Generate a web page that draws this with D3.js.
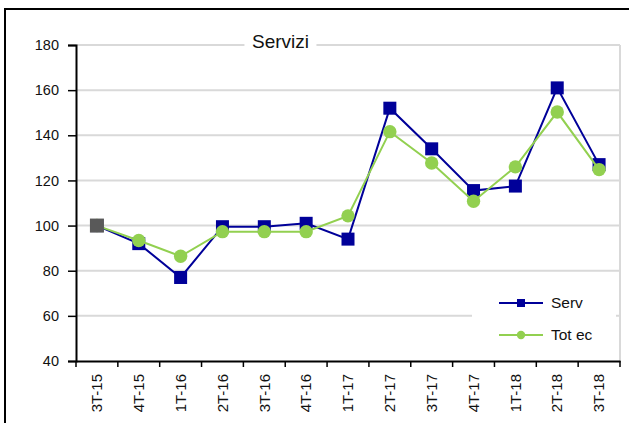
<!DOCTYPE html>
<html>
<head>
<meta charset="utf-8">
<script src="https://cdn.jsdelivr.net/npm/d3@7"></script>
<style>
	body { margin: 0; background: #fff; }
	text { font-family: "Liberation Sans", Arial, sans-serif; fill: #111; }
</style>
</head>
<body>
<div id="chart"></div>
<script>
//////////////////////////// data /////////////////////////////////////////

const categories = ["3T-15", "4T-15", "1T-16", "2T-16", "3T-16", "4T-16", "1T-17",
	"2T-17", "3T-17", "4T-17", "1T-18", "2T-18", "3T-18"];
const servValues = [100, 92, 77, 99.5, 99.5, 101, 94, 152, 134, 115.5, 117.5, 161, 127];
const totEcValues = [100, 93.4, 86.4, 97.3, 97.3, 97.3, 104.3, 141.6, 127.7, 110.8, 126, 150.3, 124.8];
const yTicks = [40, 60, 80, 100, 120, 140, 160, 180];
const seriesNames = ["Serv", "Tot ec"];

//////////////////////////// sizes ////////////////////////////////////////

const dimensions = {
	width: 629,
	height: 423,
	margin: { top: 45, right: 9, bottom: 62, left: 76 }
};
dimensions.boundedWidth = dimensions.width - dimensions.margin.left - dimensions.margin.right;
dimensions.boundedHeight = dimensions.height - dimensions.margin.top - dimensions.margin.bottom;

const navy = "#000099";
const green = "#92d050";
const grid = "#d9d9d9";

//////////////////////////// svg //////////////////////////////////////////

const svg = d3.select("#chart").append("svg")
	.attr("width", dimensions.width)
	.attr("height", dimensions.height);

// outer frame (right and bottom edges fall off the picture)
svg.append("rect")
	.attr("x", 5).attr("y", 9)
	.attr("width", 640).attr("height", 440)
	.attr("fill", "none").attr("stroke", "#000").attr("stroke-width", 2);

const bounds = svg.append("g")
	.attr("transform", `translate(${dimensions.margin.left},${dimensions.margin.top})`);

//////////////////////////// scales ///////////////////////////////////////

const xScale = d3.scaleBand()
	.domain(categories)
	.range([0, dimensions.boundedWidth]);

const yScale = d3.scaleLinear()
	.domain([40, 180])
	.range([dimensions.boundedHeight, 0]);

const xCenter = (i) => xScale(categories[i]) + xScale.bandwidth() / 2;

//////////////////////////// grid /////////////////////////////////////////

bounds.append("g")
	.selectAll("line")
	.data(yTicks.filter((d) => d > 40))
	.join("line")
	.attr("x1", 0).attr("x2", dimensions.boundedWidth)
	.attr("y1", (d) => yScale(d)).attr("y2", (d) => yScale(d))
	.attr("stroke", grid).attr("stroke-width", 2);

bounds.append("line")
	.attr("x1", dimensions.boundedWidth).attr("x2", dimensions.boundedWidth)
	.attr("y1", yScale(180)).attr("y2", yScale(40))
	.attr("stroke", grid).attr("stroke-width", 2);

//////////////////////////// axes /////////////////////////////////////////

const yAxis = bounds.append("g")
	.call(d3.axisLeft(yScale).tickValues(yTicks).tickSize(8).tickPadding(9));
yAxis.select(".domain").attr("stroke", "#000").attr("stroke-width", 2);
yAxis.selectAll(".tick line").attr("stroke", "#000").attr("stroke-width", 1.5);
yAxis.selectAll("text").style("font-size", "14.5px").attr("fill", "#111");

const xAxis = bounds.append("g")
	.attr("transform", `translate(0,${dimensions.boundedHeight})`)
	.call(d3.axisBottom(xScale).tickSize(0).tickPadding(0));
xAxis.select(".domain").attr("stroke", "#000").attr("stroke-width", 2);
xAxis.selectAll("text")
	.attr("transform", "rotate(-90)")
	.attr("x", -13)
	.attr("y", 0)
	.attr("dy", "0.35em")
	.style("text-anchor", "end")
	.style("font-size", "15px")
	.attr("fill", "#111");

// tick marks sit between categories
xAxis.append("g")
	.selectAll("line")
	.data(categories.map((d) => xScale(d)).concat([dimensions.boundedWidth]))
	.join("line")
	.attr("x1", (d) => d).attr("x2", (d) => d)
	.attr("y1", 0).attr("y2", 6)
	.attr("stroke", "#000").attr("stroke-width", 1.5);

//////////////////////////// title ////////////////////////////////////////

bounds.append("rect")
	.attr("x", xCenter(3) + 22).attr("y", -12)
	.attr("width", 72).attr("height", 20)
	.attr("fill", "#fff");

bounds.append("text")
	.attr("x", xCenter(3) + 58).attr("y", -4)
	.attr("dy", "0.35em")
	.style("text-anchor", "middle")
	.style("font-size", "19px")
	.text("Servizi");

//////////////////////////// lines ////////////////////////////////////////

const line = d3.line()
	.x((d, i) => xCenter(i))
	.y((d) => yScale(d));

bounds.append("path")
	.datum(servValues)
	.attr("d", line)
	.attr("fill", "none").attr("stroke", navy).attr("stroke-width", 2);

bounds.selectAll(".servDot")
	.data(servValues)
	.join("rect")
	.attr("class", "servDot")
	.attr("x", (d, i) => xCenter(i) - 6.5)
	.attr("y", (d) => yScale(d) - 6.5)
	.attr("width", 13).attr("height", 13)
	.attr("fill", navy);

bounds.append("path")
	.datum(totEcValues)
	.attr("d", line)
	.attr("fill", "none").attr("stroke", green).attr("stroke-width", 2);

bounds.selectAll(".totDot")
	.data(totEcValues)
	.join("circle")
	.attr("class", "totDot")
	.attr("cx", (d, i) => xCenter(i))
	.attr("cy", (d) => yScale(d))
	.attr("r", 6.7)
	.attr("fill", green);

// base period marker
bounds.append("rect")
	.attr("x", xCenter(0) - 7)
	.attr("y", yScale(servValues[0]) - 7)
	.attr("width", 14).attr("height", 14)
	.attr("fill", "#595959");

//////////////////////////// legend ///////////////////////////////////////

const legend = bounds.append("g")
	.attr("transform", `translate(${396},${242})`);

legend.append("rect")
	.attr("x", 0).attr("y", 0)
	.attr("width", 144).attr("height", 66)
	.attr("fill", "#fff");

const legendItem = legend.selectAll(".legendItem")
	.data(seriesNames)
	.join("g")
	.attr("class", "legendItem")
	.attr("transform", (d, i) => `translate(0,${16 + i * 32})`);

legendItem.append("line")
	.attr("x1", 27).attr("x2", 71)
	.attr("stroke", (d, i) => (i === 0 ? navy : green))
	.attr("stroke-width", 2);

legendItem.filter((d, i) => i === 0).append("rect")
	.attr("x", 45).attr("y", -4).attr("width", 8).attr("height", 8)
	.attr("fill", navy);

legendItem.filter((d, i) => i === 1).append("circle")
	.attr("cx", 49).attr("r", 4.2)
	.attr("fill", green);

legendItem.append("text")
	.attr("x", 79)
	.attr("dy", "0.35em")
	.style("font-size", "15.5px")
	.text((d) => d);
</script>
</body>
</html>
